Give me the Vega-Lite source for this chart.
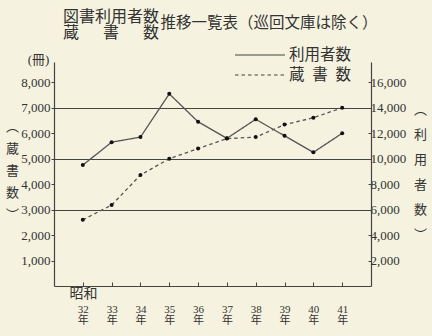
{
  "$schema": "https://vega.github.io/schema/vega-lite/v6.json",
  "width": 317,
  "height": 224,
  "autosize": {"type": "none"},
  "padding": {"left": 54, "top": 62, "right": 61, "bottom": 50},
  "background": "#f5f2df",
  "title": {
    "text": ["図書利用者数", "蔵\u3000\u2002書\u3000\u2002数"],
    "anchor": "start",
    "frame": "group",
    "align": "left",
    "dx": 9,
    "dy": 30,
    "font": "Noto Sans CJK JP",
    "fontSize": 16,
    "fontWeight": "normal",
    "lineHeight": 16,
    "color": "#333333"
  },
  "config": {
    "view": {"stroke": null},
    "axis": {
      "domainColor": "#444444",
      "domainWidth": 1.2,
      "tickColor": "#444444",
      "tickWidth": 1,
      "labelColor": "#333333",
      "titleColor": "#333333",
      "labelFont": "Liberation Serif, Noto Sans CJK JP",
      "titleFont": "Noto Sans CJK JP",
      "titleFontWeight": "normal"
    }
  },
  "data": {
    "values": [
      {"year": "32", "series": "利用者数", "value": 9500},
      {"year": "33", "series": "利用者数", "value": 11300},
      {"year": "34", "series": "利用者数", "value": 11700},
      {"year": "35", "series": "利用者数", "value": 15100},
      {"year": "36", "series": "利用者数", "value": 12900},
      {"year": "37", "series": "利用者数", "value": 11600},
      {"year": "38", "series": "利用者数", "value": 13100},
      {"year": "39", "series": "利用者数", "value": 11800},
      {"year": "40", "series": "利用者数", "value": 10500},
      {"year": "41", "series": "利用者数", "value": 12000},
      {"year": "32", "series": "蔵書数", "value": 2600},
      {"year": "33", "series": "蔵書数", "value": 3180},
      {"year": "34", "series": "蔵書数", "value": 4360},
      {"year": "35", "series": "蔵書数", "value": 5000},
      {"year": "36", "series": "蔵書数", "value": 5400},
      {"year": "37", "series": "蔵書数", "value": 5790},
      {"year": "38", "series": "蔵書数", "value": 5850},
      {"year": "39", "series": "蔵書数", "value": 6340},
      {"year": "40", "series": "蔵書数", "value": 6610},
      {"year": "41", "series": "蔵書数", "value": 7000}
    ]
  },
  "layer": [
    {
      "transform": [{"filter": "datum.series == '蔵書数'"}],
      "encoding": {
        "x": {
          "field": "year",
          "type": "ordinal",
          "scale": {"type": "point", "padding": 1},
          "axis": {
            "orient": "bottom",
            "title": "昭和",
            "titleX": 29,
            "titleY": 7,
            "titleAlign": "center",
            "titleBaseline": "middle",
            "titleFontSize": 14,
            "labelAngle": 0,
            "labelExpr": "[datum.label, '年']",
            "labelFontSize": 11,
            "labelLineHeight": 11,
            "labelBaseline": "top",
            "labelPadding": 21,
            "tickSize": -4,
            "grid": false
          }
        },
        "y": {
          "field": "value",
          "type": "quantitative",
          "scale": {"domain": [0, 8800], "nice": false},
          "axis": {
            "orient": "left",
            "values": [1000, 2000, 3000, 4000, 5000, 6000, 7000, 8000],
            "format": ",d",
            "labelFontSize": 13,
            "labelPadding": 1,
            "tickSize": 3,
            "grid": true,
            "gridColor": "#444444",
            "gridWidth": 1.2,
            "gridOpacity": {"condition": {"test": "datum.value == 3000 || datum.value == 5000 || datum.value == 7000", "value": 1}, "value": 0},
            "title": ["︵", "蔵", "書", "数", "︶"],
            "titleAngle": 0,
            "titleAlign": "center",
            "titleBaseline": "middle",
            "titleFontSize": 13,
            "titleLineHeight": 22,
            "titleX": -42,
            "titleY": 64
          }
        }
      },
      "layer": [
        {
          "mark": {"type": "line", "color": "#555555", "strokeWidth": 1.3},
          "encoding": {
            "strokeDash": {
              "field": "series",
              "type": "nominal",
              "scale": {"domain": ["利用者数", "蔵書数"], "range": [[1, 0], [3.5, 3]]},
              "legend": {
                "orient": "none",
                "legendX": 195,
                "legendY": -18,
                "title": null,
                "symbolType": "M-2.5,0H2.5",
                "symbolSize": 400,
                "symbolStrokeWidth": 1.2,
                "symbolStrokeColor": "#444444",
                "labelFont": "Noto Sans CJK JP",
                "labelFontSize": 15.5,
                "labelColor": "#333333",
                "labelOffset": 18,
                "rowPadding": -1,
                "labelExpr": "datum.label == '蔵書数' ? '蔵\u2002書\u2002数' : datum.label"
              }
            }
          }
        },
        {
          "mark": {"type": "point", "filled": true, "color": "#111111", "size": 16, "opacity": 1}
        }
      ]
    },
    {
      "transform": [{"filter": "datum.series == '利用者数'"}],
      "encoding": {
        "y": {
          "field": "value",
          "type": "quantitative",
          "scale": {"domain": [0, 17600], "nice": false},
          "axis": {
            "orient": "right",
            "values": [2000, 4000, 6000, 8000, 10000, 12000, 14000, 16000],
            "format": ",d",
            "labelFontSize": 13,
            "labelPadding": 2,
            "tickSize": -3,
            "grid": false,
            "title": ["︵", "利", "用", "者", "数", "︶"],
            "titleAngle": 0,
            "titleAlign": "center",
            "titleBaseline": "middle",
            "titleFontSize": 13,
            "titleLineHeight": 25,
            "titleX": 49,
            "titleY": 47
          }
        }
      },
      "layer": [
        {
          "mark": {"type": "line", "color": "#555555", "strokeWidth": 1.3},
          "encoding": {
            "x": {
              "field": "year",
              "type": "ordinal",
              "scale": {"type": "point", "padding": 1},
              "axis": {
                "orient": "top",
                "title": "(冊)",
                "titleFont": "Liberation Serif, Noto Sans CJK JP",
                "titleFontSize": 13,
                "titleX": -16,
                "titleY": -3,
                "titleAlign": "center",
                "titleBaseline": "middle",
                "labels": false,
                "ticks": false,
                "domain": false,
                "grid": false
              }
            },
            "strokeDash": {
              "field": "series",
              "type": "nominal",
              "scale": {"domain": ["利用者数", "蔵書数"], "range": [[1, 0], [3.5, 3]]},
              "legend": {
                "orient": "none",
                "legendX": 195,
                "legendY": -18,
                "title": null,
                "symbolType": "M-2.5,0H2.5",
                "symbolSize": 400,
                "symbolStrokeWidth": 1.2,
                "symbolStrokeColor": "#444444",
                "labelFont": "Noto Sans CJK JP",
                "labelFontSize": 15.5,
                "labelColor": "#333333",
                "labelOffset": 18,
                "rowPadding": -1,
                "labelExpr": "datum.label == '蔵書数' ? '蔵\u2002書\u2002数' : datum.label"
              }
            }
          }
        },
        {
          "mark": {"type": "point", "filled": true, "color": "#111111", "size": 16, "opacity": 1},
          "encoding": {
            "x": {
              "field": "year",
              "type": "ordinal",
              "scale": {"type": "point", "padding": 1},
              "axis": {
                "orient": "top",
                "title": "推移一覧表（巡回文庫は除く）",
                "titleFont": "Noto Sans CJK JP",
                "titleFontSize": 15.5,
                "titleX": 106,
                "titleY": -40,
                "titleAlign": "left",
                "titleBaseline": "middle",
                "labels": false,
                "ticks": false,
                "domain": false,
                "grid": false
              }
            }
          }
        }
      ],
      "resolve": {"axis": {"x": "independent"}}
    }
  ],
  "resolve": {"scale": {"y": "independent"}, "axis": {"x": "independent", "y": "independent"}}
}
